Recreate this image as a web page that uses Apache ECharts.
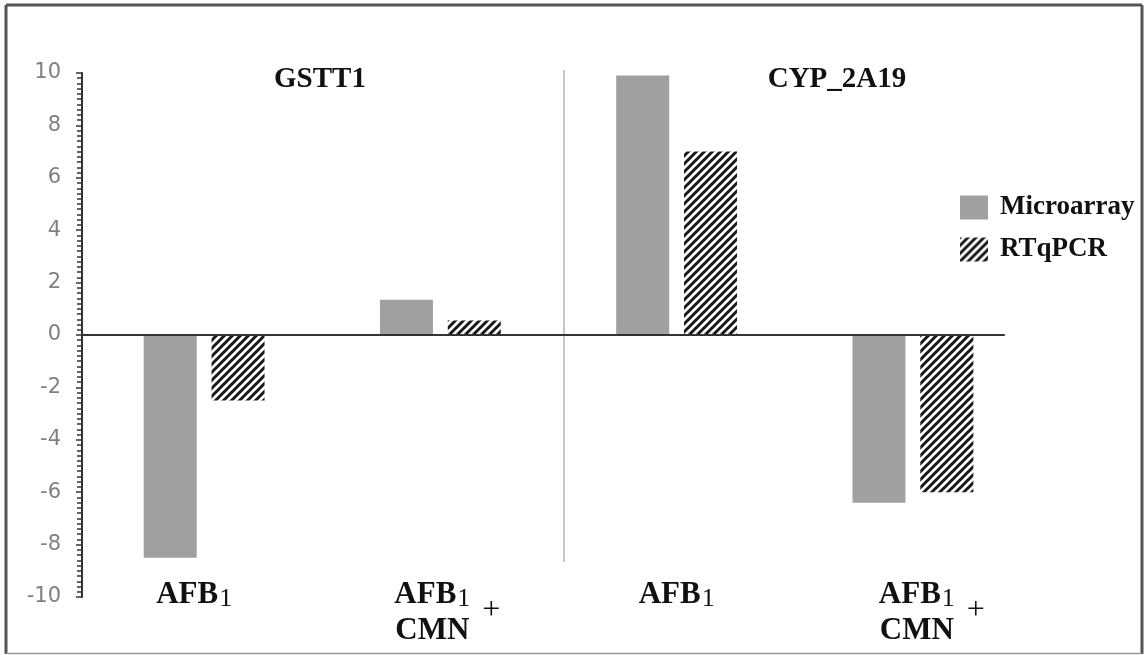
<!DOCTYPE html>
<html><head><meta charset="utf-8">
<script src="https://cdn.jsdelivr.net/npm/echarts@6/dist/echarts.min.js"></script>
<style>html,body{margin:0;padding:0;background:#fff}#c{width:1148px;height:655px}</style>
</head><body><div id="c"></div>
<script>
// ---- data ----
const categories = ['AFB1', 'AFB1 + CMN', 'AFB1', 'AFB1 + CMN'];
const seriesNames = ['Microarray', 'RTqPCR'];
const microarray = [-8.5, 1.35, 9.9, -6.4];
const rtqpcr = [-2.5, 0.55, 7.0, -6.0];
const groupTitles = ['GSTT1', 'CYP_2A19'];
const yMin = -10, yMax = 10, yStep = 2;

// ---- hatch pattern ----
function hatch() {
  const c = document.createElement('canvas'); c.width = 8; c.height = 8;
  const g = c.getContext('2d');
  g.fillStyle = '#ffffff'; g.fillRect(0, 0, 8, 8);
  g.strokeStyle = '#1a1a1a'; g.lineWidth = 3;
  g.beginPath();
  g.moveTo(-4, 4); g.lineTo(4, -4);
  g.moveTo(-4, 12); g.lineTo(12, -4);
  g.moveTo(4, 12); g.lineTo(12, 4);
  g.stroke();
  return c;
}
const serif = 'Liberation Serif, Times New Roman, serif';
// label padding (layout only) to mimic the hand-placed text boxes
const labelPad = [[0, 20, 0, 0], [0, 0, 0, 14], [0, 0, 0, 0], [0, 0, 0, 38]];
const catItems = categories.map((c, i) => ({value: c, textStyle: {padding: labelPad[i]}}));

const chart = echarts.init(document.getElementById('c'), null, {renderer: 'canvas'});
chart.setOption({
  animation: false,
  backgroundColor: '#ffffff',
  grid: [
    {left: 82, right: 144, top: 73, bottom: 58},
    {left: 86, right: 117, top: 73, bottom: 58}
  ],
  xAxis: [
    {gridIndex: 0, type: 'category', data: categories, z: 5,
     axisLine: {show: true, onZero: true, lineStyle: {color: '#333', width: 2}},
     axisTick: {show: false}, axisLabel: {show: false}, splitLine: {show: false}},
    {gridIndex: 1, type: 'category', data: catItems, position: 'bottom',
     axisLine: {show: false, onZero: false}, axisTick: {show: false}, splitLine: {show: false},
     axisLabel: {
       show: true, interval: 0, margin: -20, verticalAlign: 'top',
       formatter: v => v.indexOf('+') >= 0 ? '{b|AFB}{s|1}{p|+}\n{b|CMN}{q|+}' : '{b|AFB}{s|1}',
       rich: {
         b: {fontFamily: serif, fontWeight: 'bold', fontSize: 31, color: '#111', lineHeight: 36},
         s: {fontFamily: serif, fontWeight: 'normal', fontSize: 26, color: '#111', lineHeight: 26, padding: [8, 0, 0, 1]},
         p: {fontFamily: serif, fontWeight: 'normal', fontSize: 32, color: '#111', lineHeight: 4, padding: [32, 0, 0, 12]},
         q: {fontFamily: serif, fontWeight: 'normal', fontSize: 32, color: 'rgba(0,0,0,0)', lineHeight: 4, padding: [0, 0, 0, 12]}
       }
     }}
  ],
  yAxis: [
    {gridIndex: 0, type: 'value', min: yMin, max: yMax, interval: yStep,
     axisLine: {show: true, lineStyle: {color: '#333', width: 2}},
     axisTick: {show: true, length: 6, lineStyle: {color: '#333', width: 1.5}},
     minorTick: {show: true, splitNumber: 10, length: 5, lineStyle: {color: '#333', width: 1.5}},
     splitLine: {show: false},
     axisLabel: {fontFamily: 'DejaVu Sans', fontSize: 21, color: '#808080', margin: 21}},
    {gridIndex: 1, type: 'value', min: yMin, max: yMax, interval: yStep, show: false}
  ],
  legend: {
    orient: 'vertical', left: 955, top: 189, itemWidth: 28, itemHeight: 24, itemGap: 15,
    icon: 'rect', selectedMode: false, data: seriesNames,
    textStyle: {fontFamily: serif, fontWeight: 'bold', fontSize: 27, color: '#111', lineHeight: 24, padding: [0, 0, 0, 7]}
  },
  graphic: [
    {type: 'line', shape: {x1: 564, y1: 70, x2: 564, y2: 562}, style: {stroke: '#c8c8c8', lineWidth: 2}, silent: true},
    {type: 'text', x: 320, y: 80, style: {text: groupTitles[0], font: 'bold 29px ' + serif, fill: '#111', textAlign: 'center', textVerticalAlign: 'middle'}},
    {type: 'text', x: 837, y: 80, style: {text: groupTitles[1], font: 'bold 29px ' + serif, fill: '#111', textAlign: 'center', textVerticalAlign: 'middle'}},
    {type: 'line', shape: {x1: 6, y1: 5, x2: 1142, y2: 5}, style: {stroke: '#555', lineWidth: 3}, silent: true},
    {type: 'line', shape: {x1: 6, y1: 5, x2: 6, y2: 654}, style: {stroke: '#555', lineWidth: 3}, silent: true},
    {type: 'line', shape: {x1: 1142, y1: 5, x2: 1142, y2: 654}, style: {stroke: '#555', lineWidth: 3}, silent: true},
    {type: 'line', shape: {x1: 6, y1: 653.5, x2: 1142, y2: 653.5}, style: {stroke: '#999', lineWidth: 1.5}, silent: true}
  ],
  series: [
    {name: seriesNames[0], type: 'bar', xAxisIndex: 1, yAxisIndex: 1, data: microarray,
     barWidth: 53, barGap: '28%', silent: true, itemStyle: {color: '#a0a0a0'}},
    {name: seriesNames[1], type: 'bar', xAxisIndex: 1, yAxisIndex: 1, data: rtqpcr,
     barWidth: 53, barGap: '28%', silent: true, itemStyle: {color: {image: hatch(), repeat: 'repeat'}}}
  ]
});
</script></body></html>
